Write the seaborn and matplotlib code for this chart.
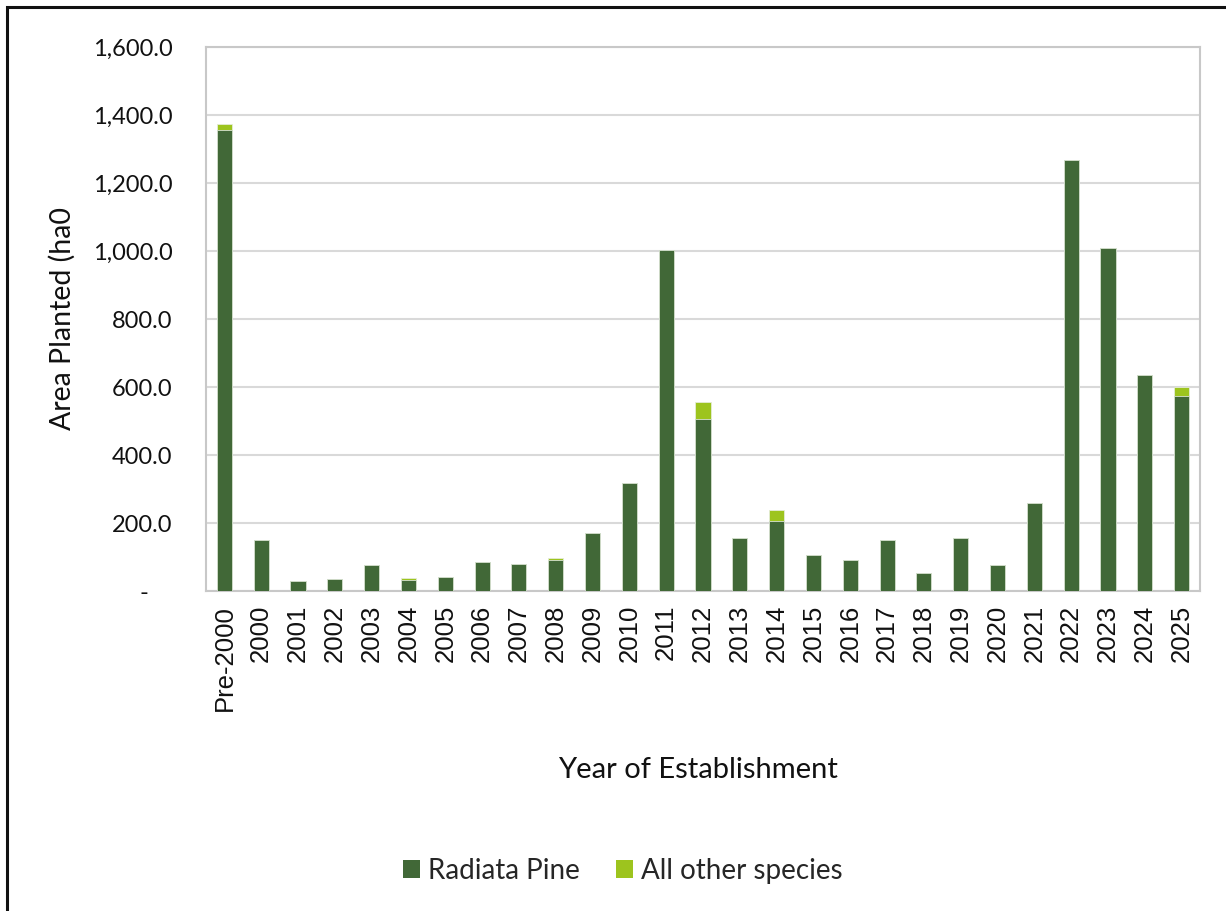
import matplotlib
matplotlib.use("Agg")
import matplotlib.pyplot as plt
import matplotlib.ticker as mticker
from matplotlib.patches import Patch, Rectangle
import seaborn as sns
import pandas as pd

years = ["Pre-2000", "2000", "2001", "2002", "2003", "2004", "2005", "2006",
         "2007", "2008", "2009", "2010", "2011", "2012", "2013", "2014",
         "2015", "2016", "2017", "2018", "2019", "2020", "2021", "2022",
         "2023", "2024", "2025"]
radiata_pine = [1356, 150, 30, 35, 76, 33, 40, 85,
                80, 92, 170, 317, 1002, 507, 155, 207,
                105, 91, 150, 53, 155, 77, 260, 1268,
                1009, 635, 574]
other_species = [17, 0, 0, 0, 0, 5, 0, 0,
                 0, 5, 0, 0, 0, 48, 0, 32,
                 0, 0, 0, 0, 0, 0, 0, 0,
                 0, 0, 26]
y_ticks = [0, 200, 400, 600, 800, 1000, 1200, 1400, 1600]

DARK = "#416837"
LIGHT = "#9dc41e"
GRID = "#d9d9d9"

df = pd.DataFrame({"year": years, "rp": radiata_pine, "other": other_species})
df["total"] = df["rp"] + df["other"]

sns.set_theme(style="white")
plt.rcParams["font.family"] = ["Lato", "DejaVu Sans"]

fig = plt.figure(figsize=(12.26, 9.11), dpi=100)
ax = fig.add_axes([206 / 1226, 1 - 591 / 911, (1200 - 206) / 1226, (591 - 47) / 911])

# stacked bars: total in light green, radiata pine over it in dark green
sns.barplot(data=df, x="year", y="total", color=LIGHT, width=0.41,
            edgecolor="#e4ecd6", linewidth=0.6, saturation=1, ax=ax, zorder=3)
sns.barplot(data=df, x="year", y="rp", color=DARK, width=0.41,
            edgecolor="#d8e2d3", linewidth=0.6, saturation=1, ax=ax, zorder=4)

ax.set_ylim(0, 1600)
ax.set_xlim(-0.5, len(years) - 0.5)
ax.set_yticks(y_ticks)
ax.yaxis.set_major_formatter(mticker.FuncFormatter(
    lambda v, p: "-    " if v == 0 else f"{v:,.1f}"))
ax.grid(axis="y", color=GRID, linewidth=1.5, zorder=0)
ax.grid(axis="x", visible=False)
ax.set_axisbelow(True)
for s in ax.spines.values():
    s.set_color("#c8c8c8")
    s.set_linewidth(1.5)

ax.tick_params(axis="y", length=0, pad=24, labelsize=17, labelcolor="#111111")
ax.tick_params(axis="x", length=0, pad=10, labelsize=18.5, labelcolor="#111111")
for lbl in ax.get_xticklabels():
    lbl.set_rotation(90)
    lbl.set_family(["Liberation Sans", "DejaVu Sans"])

ax.set_xlabel("")
ax.set_ylabel("")
fig.text(62 / 1226, 1 - 318 / 911, "Area Planted (ha0", rotation=90,
         ha="center", va="center", fontsize=20.5, color="#111111")
fig.text(698 / 1226, 1 - 770 / 911, "Year of Establishment",
         ha="center", va="center", fontsize=21, color="#111111")

handles = [Patch(facecolor=DARK, edgecolor="none", label="Radiata Pine"),
           Patch(facecolor=LIGHT, edgecolor="none", label="All other species")]
fig.legend(handles=handles, loc="center", bbox_to_anchor=(623 / 1226, 1 - 871 / 911),
           ncol=2, frameon=False, fontsize=20, handlelength=0.6, handleheight=0.6,
           handletextpad=0.3, columnspacing=1.3)

# outer chart frame (top and left edges visible)
fig.patches.append(Rectangle((7 / 1226, -0.05), 1.1, 1 - 7 / 911 + 0.05,
                             transform=fig.transFigure, fill=False,
                             edgecolor="#111111", linewidth=2.2, zorder=10))

fig.savefig("out.png", dpi=100, facecolor="white")
